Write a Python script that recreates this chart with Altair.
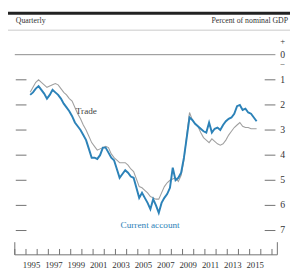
import altair as alt
import pandas as pd

# ---- data (percent of nominal GDP, deficit shown as positive, axis inverted) ----
first_quarter = 1995.375  # 1995:Q2 midpoint
current_account = [
    1.6, 1.5, 1.35, 1.25, 1.4, 1.55, 1.75, 1.6, 1.4, 1.5,
    1.6, 1.75, 1.95, 2.1, 2.25, 2.45, 2.7, 2.85, 3.0, 3.2,
    3.4, 3.75, 4.1, 4.1, 4.15, 4.0, 3.7, 3.7, 3.9, 4.1,
    4.2, 4.55, 4.9, 4.75, 4.6, 4.7, 4.85, 4.9, 5.3, 5.7,
    5.5, 5.7, 5.9, 6.15, 5.75, 6.0, 6.3, 5.9, 5.7, 5.55,
    5.3, 4.5, 5.0, 4.9, 4.7, 4.1, 3.3, 2.5, 2.6, 2.75,
    2.85, 2.95, 3.05, 3.1, 2.7, 3.1, 2.95, 2.9, 3.0, 2.8,
    2.65, 2.55, 2.5, 2.35, 2.05, 2.0, 2.2, 2.15, 2.3, 2.35,
    2.5, 2.65,
]
trade = [
    1.5, 1.3, 1.1, 1.0, 1.1, 1.2, 1.3, 1.25, 1.2, 1.15,
    1.2, 1.35, 1.5, 1.6, 1.75, 1.85, 2.1, 2.35, 2.55, 2.8,
    3.0, 3.25, 3.5, 3.65, 3.8, 3.75, 3.7, 3.65, 3.7, 3.95,
    4.1, 4.2, 4.3, 4.3, 4.3, 4.4, 4.55, 4.65, 4.95, 5.25,
    5.3, 5.4, 5.5, 5.65, 5.7, 5.75, 5.75, 5.5, 5.25, 5.1,
    5.0, 4.95, 4.9, 5.05, 4.8, 4.2, 3.2, 2.3, 2.6, 2.75,
    2.85, 3.1, 3.3, 3.4, 3.5, 3.35, 3.45, 3.55, 3.6, 3.55,
    3.4, 3.2, 3.05, 2.9, 2.8, 2.7, 2.85, 2.9, 2.9, 2.95,
    2.95, 2.95,
]
tick_years = list(range(1994, 2018))
label_years = list(range(1995, 2016, 2))
y_ticks = [1, 2, 3, 4, 5, 6, 7]
y_labels = ["0", "1", "2", "3", "4", "5", "6", "7"]
series_labels = ["Trade", "Current account"]

# ---- styling ----
FONT = "Liberation Serif"
BLUE = "#2c82b8"
GRAY = "#a0a0a0"
AXIS = "#707070"
X_END = 2017.48

times = [first_quarter + 0.25 * i for i in range(len(current_account))]
lines_df = pd.concat([
    pd.DataFrame({"t": times, "v": trade, "s": "Trade"}),
    pd.DataFrame({"t": times, "v": current_account, "s": "Current account"}),
])

xs = alt.Scale(domain=[1994, X_END], nice=False, zero=False)
ys = alt.Scale(domain=[-0.859, 7.967], reverse=True, nice=False, zero=False)

def X(field="t"):
    return alt.X(f"{field}:Q", scale=xs, axis=None)

def Y(field="v"):
    return alt.Y(f"{field}:Q", scale=ys, axis=None)

trade_line = alt.Chart(lines_df).transform_filter(alt.datum.s == "Trade").mark_line(
    color=GRAY, strokeWidth=1.1).encode(x=X(), y=Y())
ca_line = alt.Chart(lines_df).transform_filter(alt.datum.s == "Current account").mark_line(
    color=BLUE, strokeWidth=2).encode(x=X(), y=Y())

# zero line
zero_df = pd.DataFrame({"v": [0]})
zero_line = alt.Chart(zero_df).mark_rule(color="#8a8a8a", strokeWidth=1).encode(
    y=Y(), x=alt.value(0), x2=alt.value(268))

# y tick dashes (left and right, inside)
yt_df = pd.DataFrame({"v": y_ticks})
left_ticks = alt.Chart(yt_df).mark_rule(color=AXIS, strokeWidth=1).encode(
    y=Y(), x=alt.value(1), x2=alt.value(12))
right_ticks = alt.Chart(yt_df).mark_rule(color=AXIS, strokeWidth=1).encode(
    y=Y(), x=alt.value(257), x2=alt.value(268))

ylab_df = pd.DataFrame({"v": list(range(0, 8)), "txt": y_labels})
right_labels = alt.Chart(ylab_df).mark_text(
    align="left", baseline="middle", font=FONT, fontSize=10, color="#333").encode(
    y=Y(), x=alt.value(273), text="txt:N")
sign_df = pd.DataFrame({"v": [-0.55, 0.38], "txt": ["+", "\u2212"]})
sign_labels = alt.Chart(sign_df).mark_text(
    align="left", baseline="middle", font=FONT, fontSize=9, color="#333").encode(
    y=Y(), x=alt.value(273), text="txt:N")

# bottom axis
base_df = pd.DataFrame({"t": [1994], "t2": [X_END]})
base_line = alt.Chart(base_df).mark_rule(color=AXIS, strokeWidth=1).encode(
    x=X(), x2="t2:Q", y=alt.value(228))
xt_df = pd.DataFrame({"t": tick_years})
x_ticks = alt.Chart(xt_df).mark_rule(color=AXIS, strokeWidth=1).encode(
    x=X(), y=alt.value(222), y2=alt.value(228))
end_df = pd.DataFrame({"t": [1994, X_END]})
end_ticks = alt.Chart(end_df).mark_rule(color=AXIS, strokeWidth=1).encode(
    x=X(), y=alt.value(215), y2=alt.value(228))
xl_df = pd.DataFrame({"t": [y + 0.5 for y in label_years], "txt": [str(y) for y in label_years]})
x_labels = alt.Chart(xl_df).mark_text(
    align="center", baseline="middle", font=FONT, fontSize=9, color="#333").encode(
    x=X(), y=alt.value(238.5), text="txt:N")

# series labels
lab_df = pd.DataFrame({"t": [1999.45, 2006.1], "v": [2.24, 6.77], "txt": series_labels})
trade_lab = alt.Chart(lab_df).transform_filter(alt.datum.txt == "Trade").mark_text(
    align="left", baseline="middle", font=FONT, fontSize=9.5, color="#444").encode(
    x=X(), y=Y(), text="txt:N")
ca_lab = alt.Chart(lab_df).transform_filter(alt.datum.txt == "Current account").mark_text(
    align="center", baseline="middle", font=FONT, fontSize=9.5, color=BLUE).encode(
    x=X(), y=Y(), text="txt:N")

# header
hdr_df = pd.DataFrame({"a": [0]})
top_rule = alt.Chart(hdr_df).mark_rule(color="#222", strokeWidth=3).encode(
    x=alt.value(-7), x2=alt.value(290), y=alt.value(-20.5))
thin_rule = alt.Chart(hdr_df).mark_rule(color="#c8c8c8", strokeWidth=1).encode(
    x=alt.value(-7), x2=alt.value(290), y=alt.value(-3))
hdr_left = alt.Chart(pd.DataFrame({"txt": ["Quarterly"]})).mark_text(
    align="left", baseline="alphabetic", font=FONT, fontSize=8, color="#333").encode(
    x=alt.value(1), y=alt.value(-10), text="txt:N")
hdr_right = alt.Chart(pd.DataFrame({"txt": ["Percent of nominal GDP"]})).mark_text(
    align="right", baseline="alphabetic", font=FONT, fontSize=8, color="#333").encode(
    x=alt.value(281), y=alt.value(-10), text="txt:N")

chart = alt.layer(
    zero_line, left_ticks, right_ticks, right_labels, sign_labels,
    base_line, x_ticks, end_ticks, x_labels,
    trade_line, ca_line, trade_lab, ca_lab,
    top_rule, thin_rule, hdr_left, hdr_right,
).properties(
    width=270, height=228,
    padding={"left": 7, "top": 22, "right": 13, "bottom": 19},
    autosize=alt.AutoSizeParams(type="none"),
).configure_view(stroke=None)

chart.save("out.html", embed_options={"renderer": "svg", "actions": False})
